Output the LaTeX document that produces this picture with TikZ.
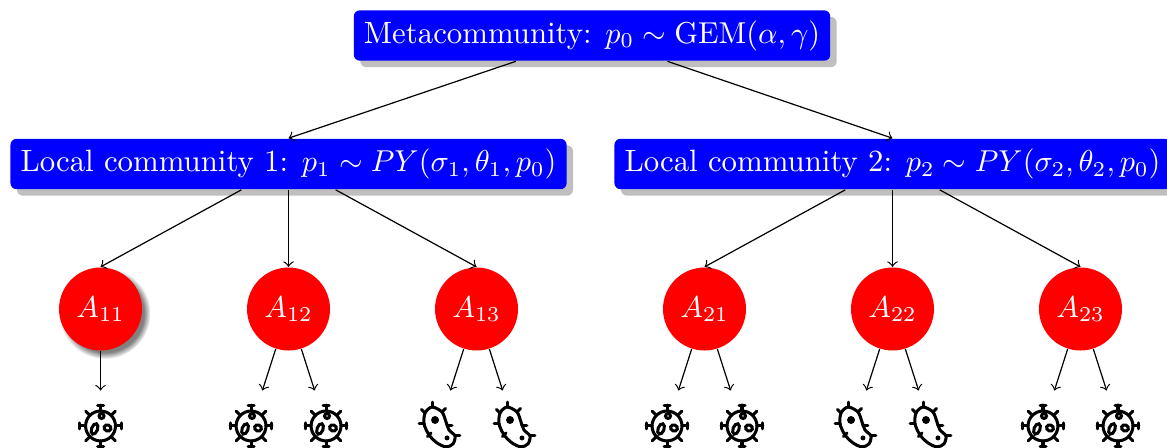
\documentclass[tikz,border=0pt]{standalone}
\usepackage{amsmath}
\usetikzlibrary{shadows}

\begin{document}
\begin{tikzpicture}[font=\fontsize{10.2pt}{12pt}\selectfont,
		box/.style={rectangle,rounded corners=2pt,fill=blue,text=white,drop shadow},
		agent/.style={circle,fill=red,text=white,minimum size=0.965cm,inner sep=0pt},
		icon/.style={minimum width=0.45cm,minimum height=0.81cm,inner sep=0pt},
		ink/.style={line width=1pt,line cap=round,x=0.0116cm,y=0.0116cm},
		virus/.pic={
			\draw[ink] (0,0) circle[radius=15];
			\foreach \a in {0,45,...,315} \draw[ink] (\a:15) -- (\a:21);
			\foreach \a in {0,90,...,270} \draw[ink] (\a:21) ++({\a+90}:3) -- ++({\a-90}:6);
			\draw[ink] (1,10) circle[radius=2.5];
			\draw[ink] (-6,-3) circle[x radius=3,y radius=5.5,rotate=-20];
			\draw[ink] (7,-2) circle[x radius=3.5,y radius=3,rotate=-20];
		},
		germ/.pic={
			\draw[ink] plot[smooth cycle] coordinates {(-7,19) (-14,13) (-15,2) (-10,-9) (-2,-17) (7,-21) (14,-18) (16,-10) (10,-4) (7,4) (3,14)};
			\fill[ink] (-4,6) circle[radius=4] (8,-12) circle[radius=2.5];
			\foreach \u/\v/\a in {-7/19/90,3/14/45,-14/13/135,-15/2/180,-8/-7/225,7/-21/270,16/-10/0,8/0/0}
				\draw[ink] (\u,\v) -- ++(\a:5);
		}]
	\useasboundingbox (0,0) rectangle (13.570,-5.209);

	\node[box] (M) at (6.884,-0.413) {Metacommunity: $p_0 \sim \mathrm{GEM}(\alpha,\gamma)$};
	\node[box] (L1) at (3.355,-1.907) {Local community 1: $p_1 \sim PY(\sigma_1,\theta_1,p_0)$};
	\node[box] (L2) at (10.378,-1.907) {Local community 2: $p_2 \sim PY(\sigma_2,\theta_2,p_0)$};

	\node[agent,circular drop shadow] (A11) at (1.169,-3.593) {$A_{11}$};
	\node[agent] (A12) at (3.355,-3.593) {$A_{12}$};
	\node[agent] (A13) at (5.541,-3.593) {$A_{13}$};
	\node[agent] (A21) at (8.192,-3.593) {$A_{21}$};
	\node[agent] (A22) at (10.378,-3.593) {$A_{22}$};
	\node[agent] (A23) at (12.564,-3.593) {$A_{23}$};

	\node[icon] (A11a) at (1.169,-4.953) {};
	\node[icon] (A12a) at (2.919,-4.953) {};
	\node[icon] (A12b) at (3.791,-4.953) {};
	\node[icon] (A13a) at (5.105,-4.953) {};
	\node[icon] (A13b) at (5.977,-4.953) {};
	\node[icon] (A21a) at (7.756,-4.953) {};
	\node[icon] (A21b) at (8.628,-4.953) {};
	\node[icon] (A22a) at (9.942,-4.953) {};
	\node[icon] (A22b) at (10.814,-4.953) {};
	\node[icon] (A23a) at (12.128,-4.953) {};
	\node[icon] (A23b) at (13.000,-4.953) {};

	\foreach \n in {A11a,A12a,A12b,A21a,A21b,A23a,A23b} \pic at (\n) {virus};
	\foreach \n in {A13a,A13b,A22a,A22b} \pic at (\n) {germ};

	\path[->] (M) edge (L1.north)
			 (M) edge (L2.north)
			 (L1) edge (A11.north)
			 (L1) edge (A12.north)
			 (L1) edge (A13.north)
			 (L2) edge (A21.north)
			 (L2) edge (A22.north)
			 (L2) edge (A23.north)
			 (A11) edge (A11a)
			 (A12) edge (A12a)
			 (A12) edge (A12b)
			 (A13) edge (A13a)
			 (A13) edge (A13b)
			 (A21) edge (A21a)
			 (A21) edge (A21b)
			 (A22) edge (A22a)
			 (A22) edge (A22b)
			 (A23) edge (A23a)
			 (A23) edge (A23b);
\end{tikzpicture}
\end{document}
